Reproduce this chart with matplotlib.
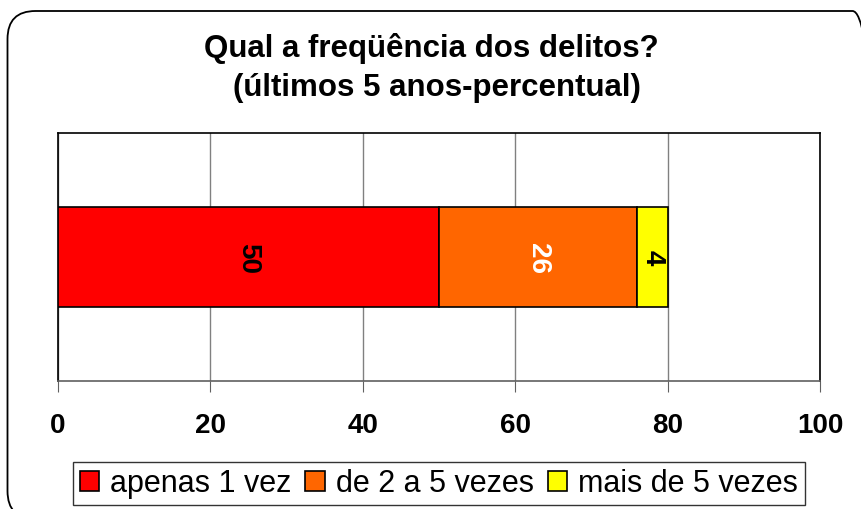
import matplotlib
matplotlib.use("Agg")
import matplotlib.pyplot as plt
from matplotlib.patches import FancyBboxPatch

plt.rcParams['font.family'] = ['Liberation Sans', 'DejaVu Sans']

# dados
categorias = ['apenas 1 vez', 'de 2 a 5 vezes', 'mais de 5 vezes']
valores = [50, 26, 4]
cores = ['#FF0000', '#FF6600', '#FFFF00']
cores_texto = ['black', 'white', 'black']
ticks = [0, 20, 40, 60, 80, 100]

fig = plt.figure(figsize=(8.62, 5.10), dpi=100)

# moldura arredondada (em polegadas, passa da borda direita e de baixo)
moldura = FancyBboxPatch((0.075, -0.10), 8.73, 5.08,
                         boxstyle="round,pad=0,rounding_size=0.28",
                         transform=fig.dpi_scale_trans, fill=False,
                         edgecolor='black', linewidth=1.3)
fig.patches.append(moldura)

ax = fig.add_axes([0.0673, 0.251, 0.884, 0.486])

esquerda = 0
for cat, v, c, ct in zip(categorias, valores, cores, cores_texto):
    ax.barh(0, v, left=esquerda, height=0.4, color=c, edgecolor='black',
            linewidth=1.2, label=cat, zorder=3)
    ax.text(esquerda + v / 2, 0, str(v), rotation=-90, ha='center', va='center',
            fontsize=20, fontweight='bold', color=ct, zorder=4)
    esquerda += v

ax.set_xlim(0, 100)
ax.set_ylim(-0.5, 0.5)
ax.set_xticks(ticks)
ax.set_yticks([])
ax.grid(axis='x', color='#808080', linewidth=1, zorder=0)
ax.tick_params(axis='x', direction='out', length=8, color='#606060', pad=14,
               labelsize=20)
for lbl in ax.get_xticklabels():
    lbl.set_fontweight('bold')
for s in ax.spines.values():
    s.set_color('black')
    s.set_linewidth(1.2)
ax.spines['bottom'].set_color('#606060')

fig.text(0.5, 0.905, 'Qual a freqüência dos delitos?', ha='center', va='center',
         fontsize=22.5, fontweight='bold')
fig.text(0.507, 0.828, '(últimos 5 anos-percentual)', ha='center', va='center',
         fontsize=22.5, fontweight='bold')

fig.legend(loc='center', bbox_to_anchor=(0.509, 0.05), ncol=3, fontsize=22,
           frameon=True, fancybox=False, edgecolor='black', handlelength=0.65,
           handleheight=0.65, handletextpad=0.35, columnspacing=0.45,
           borderpad=0.22, borderaxespad=0)

fig.savefig('out.png', dpi=100)
